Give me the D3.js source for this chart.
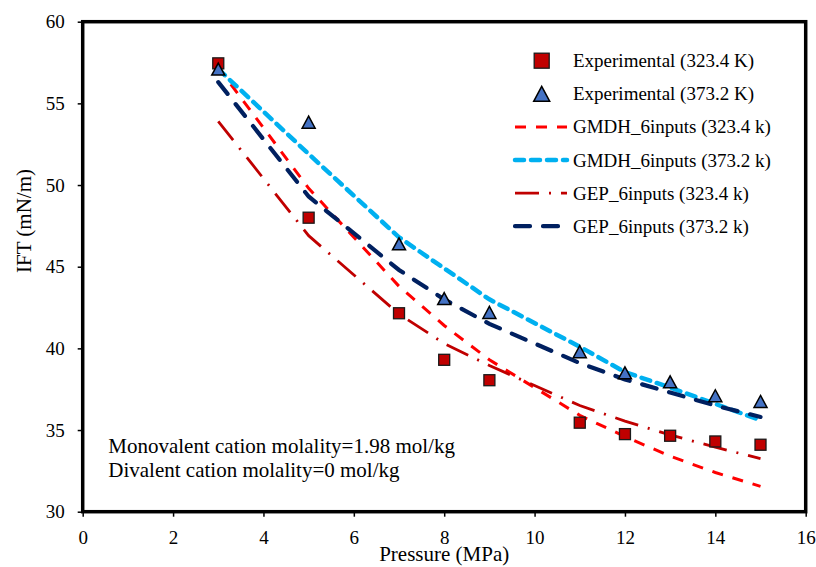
<!DOCTYPE html>
<html lang="en">
<head>
    <meta charset="UTF-8">
    <title>IFT vs Pressure</title>
    <script src="https://cdn.jsdelivr.net/npm/d3@7/dist/d3.min.js"></script>
    <style>
        body { margin: 0; background: #ffffff; }
        text { font-family: "Liberation Serif", "Times New Roman", serif; fill: #000000; }
    </style>
</head>
<body>
<svg id="mainsvg" width="816" height="567"></svg>
<script>
    // Data
    const pressure = [3, 5, 7, 8, 9, 11, 12, 13, 14, 15];
    const exp323 = [57.45, 48.0, 42.15, 39.3, 38.05, 35.45, 34.75, 34.65, 34.3, 34.1];
    const exp373 = [57.1, 53.85, 46.4, 43.05, 42.2, 39.8, 38.5, 37.95, 37.1, 36.75];
    const gmdh323 = [57.2, 49.8, 43.8, 41.4, 39.3, 35.9, 34.6, 33.4, 32.4, 31.55];
    const gmdh373 = [57.1, 51.9, 46.8, 44.9, 43.0, 40.1, 38.55, 37.6, 36.6, 35.6];
    const gep323 = [53.9, 46.9, 42.1, 40.3, 38.95, 36.5, 35.55, 34.7, 33.95, 33.25];
    const gep373 = [56.3, 49.3, 44.8, 43.0, 41.5, 39.1, 38.1, 37.3, 36.5, 35.8];

    const xTicks = [0, 2, 4, 6, 8, 10, 12, 14, 16];
    const yTicks = [30, 35, 40, 45, 50, 55, 60];

    const legendLabels = [
        'Experimental (323.4 K)',
        'Experimental (373.2 K)',
        'GMDH_6inputs (323.4 k)',
        'GMDH_6inputs (373.2 k)',
        'GEP_6inputs (323.4 k)',
        'GEP_6inputs (373.2 k)'
    ];
    const noteLines = [
        'Monovalent cation molality=1.98 mol/kg',
        'Divalent cation molality=0 mol/kg'
    ];

    // Layout
    const margin = {top: 21.7, right: 10.3, bottom: 55.3, left: 82.7};
    const svg = d3.select('#mainsvg');
    const width = +svg.attr('width');
    const height = +svg.attr('height');

    const xScale = d3.scaleLinear()
        .domain([0, 16])
        .range([margin.left, width - margin.right]);
    const yScale = d3.scaleLinear()
        .domain([30, 60])
        .range([height - margin.bottom, margin.top]);

    // line styles
    const lineStyles = [
        {data: gmdh323, color: '#ff0000', w: 3, dash: '11,10', cap: 'butt'},
        {data: gmdh373, color: '#00b0f0', w: 4.5, dash: '9,7', cap: 'round'},
        {data: gep323, color: '#c00000', w: 2.8, dash: '24,10,2,10', cap: 'butt'},
        {data: gep373, color: '#002060', w: 4.2, dash: '15,13', cap: 'round'}
    ];

    const line = d3.line()
        .x(d => xScale(d[0]))
        .y(d => yScale(d[1]));

    // Axes
    const xAxis = svg.append('g')
        .attr('transform', `translate(0,${height - margin.bottom})`)
        .call(d3.axisBottom(xScale).tickValues(xTicks).tickSize(5).tickPadding(14));
    const yAxis = svg.append('g')
        .attr('transform', `translate(${margin.left},0)`)
        .call(d3.axisLeft(yScale).tickValues(yTicks).tickSize(5).tickPadding(13));

    [xAxis, yAxis].forEach(a => {
        a.select('.domain').remove();
        a.selectAll('.tick line').attr('stroke', '#000').attr('stroke-width', 1.5);
        a.selectAll('.tick text')
            .style('font-family', '"Liberation Serif", serif')
            .attr('font-size', 19);
    });

    // Lines
    const lines = svg.append('g').attr('id', 'lines');
    lineStyles.forEach(s => {
        lines.append('path')
            .datum(pressure.map((p, i) => [p, s.data[i]]))
            .attr('d', line)
            .attr('fill', 'none')
            .attr('stroke', s.color)
            .attr('stroke-width', s.w)
            .attr('stroke-dasharray', s.dash)
            .attr('stroke-linecap', s.cap);
    });

    // Markers
    const square = (g, cx, cy, size) => g.append('rect')
        .attr('x', cx - size / 2)
        .attr('y', cy - size / 2)
        .attr('width', size)
        .attr('height', size)
        .attr('fill', '#c00000')
        .attr('stroke', '#1a1a1a')
        .attr('stroke-width', 1.3);

    const triangle = (g, cx, cy, w, h) => g.append('path')
        .attr('d', `M${cx},${cy - h / 2}L${cx + w / 2},${cy + h / 2}L${cx - w / 2},${cy + h / 2}Z`)
        .attr('fill', '#4472c4')
        .attr('stroke', '#000')
        .attr('stroke-width', 1.5)
        .attr('stroke-linejoin', 'miter');

    const markers = svg.append('g').attr('id', 'markers');
    pressure.forEach((p, i) => {
        square(markers, xScale(p), yScale(exp323[i]), 11);
        triangle(markers, xScale(p), yScale(exp373[i]), 13, 12);
    });

    // Frame
    svg.append('rect')
        .attr('x', margin.left)
        .attr('y', margin.top)
        .attr('width', width - margin.right - margin.left)
        .attr('height', height - margin.bottom - margin.top)
        .attr('fill', 'none')
        .attr('stroke', '#000')
        .attr('stroke-width', 3.5);

    // Axis titles
    svg.append('text')
        .attr('x', (xScale(0) + xScale(16)) / 2)
        .attr('y', 561)
        .attr('text-anchor', 'middle')
        .attr('font-size', 21)
        .text('Pressure (MPa)');

    svg.append('text')
        .attr('transform', 'translate(30.5,221) rotate(-90)')
        .attr('text-anchor', 'middle')
        .attr('font-size', 21)
        .text('IFT (mN/m)');

    // Note
    svg.append('g').selectAll('text')
        .data(noteLines)
        .join('text')
        .attr('x', 108.3)
        .attr('y', (d, i) => 453.3 + i * 24)
        .attr('font-size', 21)
        .text(d => d);

    // Legend
    const legend = svg.append('g').attr('id', 'legend');
    const legY = i => 60.7 + i * 33.1;
    legendLabels.forEach((lab, i) => {
        const cy = legY(i);
        if (i === 0) square(legend, 541.7, cy, 15);
        else if (i === 1) triangle(legend, 541.7, cy, 16, 15);
        else {
            const s = lineStyles[i - 2];
            legend.append('line')
                .attr('x1', 515).attr('x2', 567)
                .attr('y1', cy).attr('y2', cy)
                .attr('stroke', s.color)
                .attr('stroke-width', s.w)
                .attr('stroke-dasharray', s.dash)
                .attr('stroke-linecap', s.cap);
        }
        legend.append('text')
            .attr('x', 573)
            .attr('y', cy + 6.5)
            .attr('font-size', 19)
            .text(lab);
    });
</script>
</body>
</html>
